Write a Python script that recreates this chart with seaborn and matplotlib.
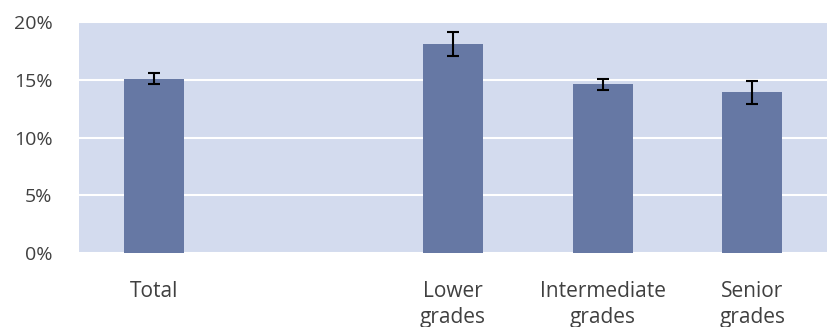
import matplotlib
matplotlib.use("Agg")
import matplotlib.pyplot as plt
import seaborn as sns
import pandas as pd
import numpy as np

categories = ["Total", " ", "Lower\ngrades", "Intermediate\ngrades", "Senior\ngrades"]
values = [15.1, np.nan, 18.1, 14.6, 13.9]
errors = [0.45, np.nan, 1.0, 0.5, 1.0]
yticks = [0, 5, 10, 15, 20]
ytick_labels = ["0%", "5%", "10%", "15%", "20%"]

sns.set_style("white")
plt.rcParams["font.family"] = ["Open Sans", "DejaVu Sans"]

df = pd.DataFrame({"cat": categories, "val": values})

fig = plt.figure(figsize=(8.27, 3.27), dpi=100)
ax = fig.add_axes([0.0955, 0.2263, 0.9045, 0.7064])
ax.set_facecolor("#D3DBEE")

sns.barplot(data=df.dropna(), x="cat", y="val", order=categories, color="#6678A4",
            width=0.4, errorbar=None, saturation=1, linewidth=0, ax=ax, zorder=3)

xpos = [categories.index(c) for c in categories]
for x, v, e in zip(xpos, values, errors):
    if not np.isnan(v):
        ax.errorbar(x, v, yerr=e, fmt="none", ecolor="black", elinewidth=1.5,
                    capsize=4.5, capthick=1.5, zorder=4)

ax.set_ylim(0, 20)
ax.set_xlim(-0.5, len(categories) - 0.5)
ax.set_yticks(yticks)
ax.set_yticklabels(ytick_labels)
ax.yaxis.grid(True, color="white", linewidth=1.5, zorder=1)
ax.set_axisbelow(True)
for s in ax.spines.values():
    s.set_visible(False)
ax.set_xlabel("")
ax.set_ylabel("")
ax.tick_params(axis="y", length=8, color="#EEF0F5", pad=11, labelsize=14, labelcolor="#404040")
ax.tick_params(axis="x", length=0, pad=20, labelsize=15, labelcolor="#404040")
for t in ax.get_xticklabels():
    t.set_linespacing(1.3)

fig.savefig("out.png", dpi=100)
